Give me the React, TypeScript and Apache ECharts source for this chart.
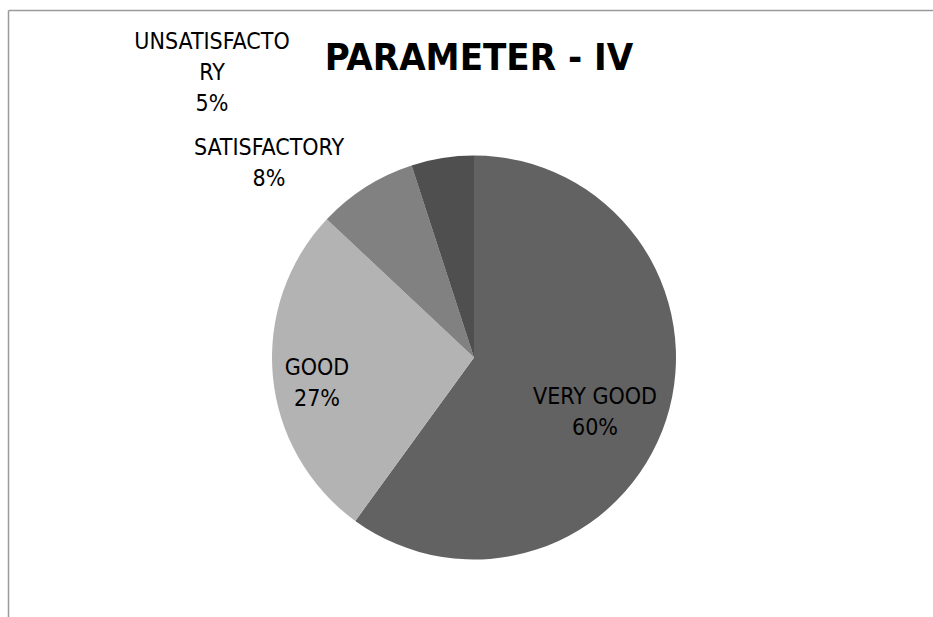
import React, { useEffect, useRef } from "react";
import * as echarts from "echarts";

const categories = ["VERY GOOD", "GOOD", "SATISFACTORY", "UNSATISFACTORY"];
const values = [60, 27, 8, 5];
const labelTexts = ["VERY GOOD\n60%", "GOOD\n27%", "SATISFACTORY\n8%", "UNSATISFACTO\nRY\n5%"];
const colors = ["#626262", "#b3b3b3", "#818181", "#4f4f4f"];
const labelPos = [
  [595, 411],
  [317, 382],
  [269, 162],
  [212, 72],
];

const FONT = "'DejaVu Sans Condensed', 'Liberation Sans', sans-serif";

export default function App() {
  const ref = useRef<HTMLDivElement>(null);
  useEffect(() => {
    if (!ref.current) return;
    const chart = echarts.init(ref.current, undefined, { renderer: "svg" });
    chart.setOption({
      animation: false,
      backgroundColor: "#ffffff",
      title: {
        text: "PARAMETER - IV",
        left: 474,
        top: 33,
        textAlign: "center",
        textStyle: {
          fontFamily: FONT,
          fontWeight: "bold",
          fontSize: 38,
          color: "#000000",
        },
      },
      graphic: [
        { type: "line", shape: { x1: 8.5, y1: 10.5, x2: 933, y2: 10.5 }, style: { stroke: "#9a9a9a", lineWidth: 1.5 } },
        { type: "line", shape: { x1: 8.5, y1: 10.5, x2: 8.5, y2: 617 }, style: { stroke: "#9a9a9a", lineWidth: 1.5 } },
      ],
      series: [
        {
          type: "pie",
          center: [474, 357.5],
          radius: [0, 202],
          startAngle: 90,
          clockwise: true,
          avoidLabelOverlap: false,
          itemStyle: { borderWidth: 0 },
          label: {
            show: true,
            position: "outside",
            formatter: (p: any) => labelTexts[p.dataIndex],
            fontFamily: FONT,
            fontSize: 23,
            lineHeight: 31,
            color: "#000000",
            align: "center",
          },
          labelLine: { show: false },
          labelLayout: (p: any) => ({
            x: labelPos[p.dataIndex][0],
            y: labelPos[p.dataIndex][1],
            align: "center",
            verticalAlign: "middle",
          }),
          emphasis: { disabled: true },
          data: categories.map((c, i) => ({
            name: c,
            value: values[i],
            itemStyle: { color: colors[i] },
          })),
        },
      ],
    });
    return () => chart.dispose();
  }, []);
  return (
    <div
      ref={ref}
      style={{ position: "absolute", left: 0, top: 0, width: 933, height: 617 }}
    />
  );
}
